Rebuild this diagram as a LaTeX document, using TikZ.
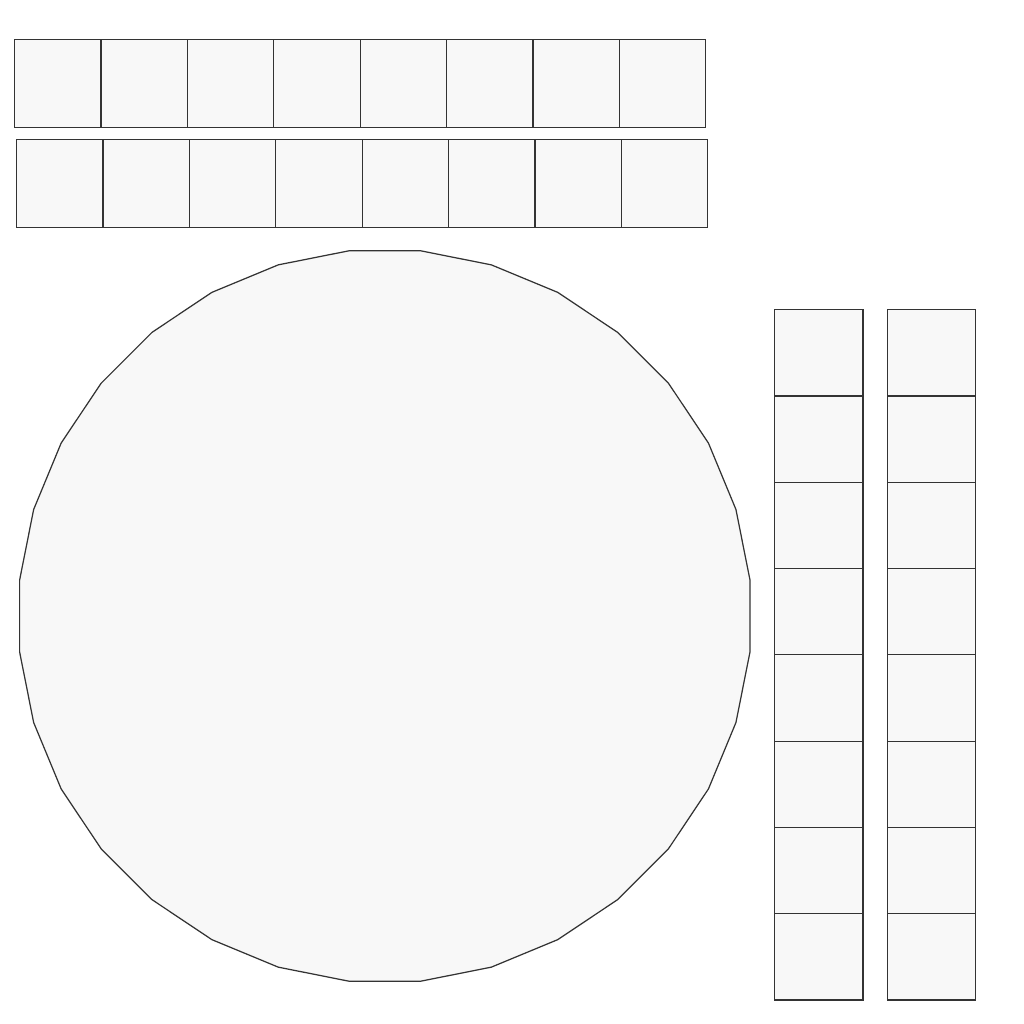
\documentclass[tikz,border=0pt]{standalone}
\usepackage{xcolor}
\usepackage{tikz}
\usetikzlibrary{shapes.geometric}

\definecolor{tilefill}{HTML}{F8F8F8}
\definecolor{tileline}{HTML}{333333}

\begin{document}
\begin{tikzpicture}[
  x=0.01cm, y=-0.01cm,
  every node/.style={draw=tileline, fill=tilefill, line width=0.35pt, inner sep=0pt},
  hcell/.style={rectangle, minimum width=0.864cm, minimum height=0.88cm, anchor=north west},
  vcell/.style={rectangle, minimum width=0.883cm, minimum height=0.863cm, anchor=north west},
  disc/.style={regular polygon, regular polygon sides=32, minimum size=7.335cm}
]
\useasboundingbox (0,0) rectangle (1024,1024);

% two rows on top
\foreach \i in {0,...,7} {
  \node[hcell] (rowa-\i) at ({14+86.4*\i},39) {};
  \node[hcell] (rowb-\i) at ({16+86.4*\i},139) {};
}

% two columns on the right
\foreach \i in {0,...,7} {
  \node[vcell] (cola-\i) at (774,{309+86.3*\i}) {};
  \node[vcell] (colb-\i) at (886.5,{309+86.3*\i}) {};
}

\node[disc] (round) at (384.8,616) {};

\end{tikzpicture}
\end{document}
